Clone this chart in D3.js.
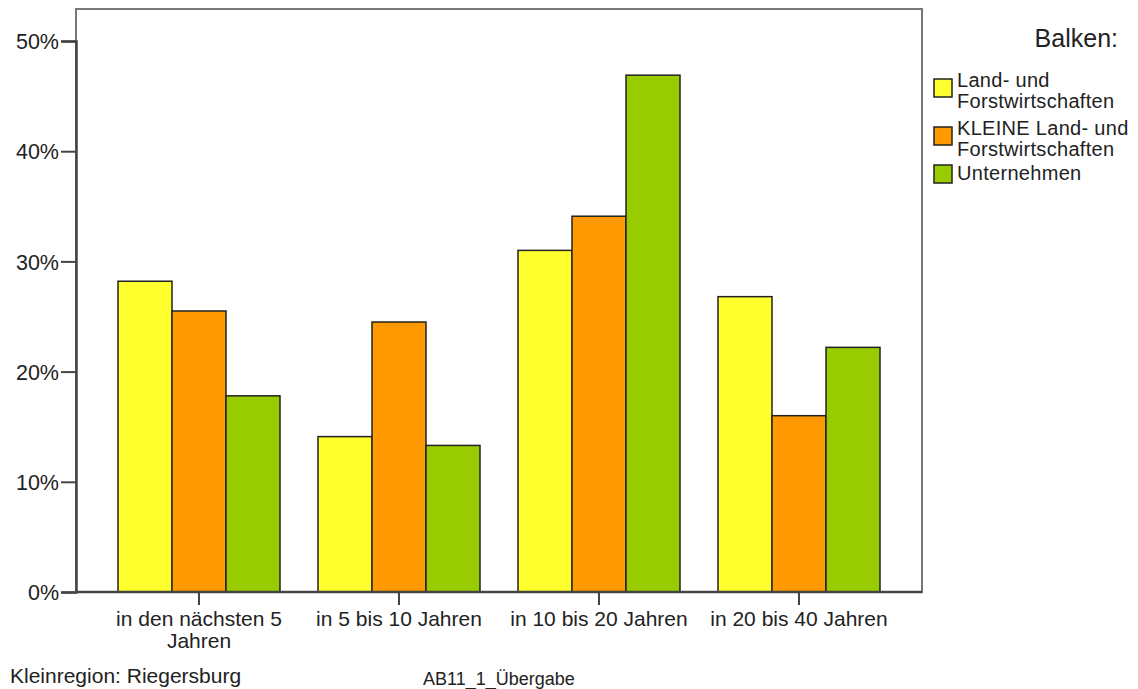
<!DOCTYPE html>
<html><head><meta charset="utf-8">
<script src="https://cdn.jsdelivr.net/npm/d3@7"></script>
<style>
html,body{margin:0;padding:0;background:#fff;}
svg text{font-family:"Liberation Sans",Arial,sans-serif;fill:#222;}
</style></head>
<body>
<svg id="chart" width="1138" height="689"></svg>
<script>
const categories = ["in den nächsten 5 Jahren", "in 5 bis 10 Jahren", "in 10 bis 20 Jahren", "in 20 bis 40 Jahren"];
const categoryLines = [["in den nächsten 5", "Jahren"], ["in 5 bis 10 Jahren"], ["in 10 bis 20 Jahren"], ["in 20 bis 40 Jahren"]];
const seriesNames = ["Land- und Forstwirtschaften", "KLEINE Land- und Forstwirtschaften", "Unternehmen"];
const seriesLegendLines = [["Land- und", "Forstwirtschaften"], ["KLEINE Land- und", "Forstwirtschaften"], ["Unternehmen"]];
const seriesColors = ["#ffff2e", "#ff9900", "#99cc00"];
const landForst = [28.2, 14.1, 31.0, 26.8];
const kleineLandForst = [25.5, 24.5, 34.1, 16.0];
const unternehmen = [17.8, 13.3, 46.9, 22.2];
const seriesValues = [landForst, kleineLandForst, unternehmen];
const yTicks = [0, 10, 20, 30, 40, 50];
const legendTitle = "Balken:";
const footLeft = "Kleinregion: Riegersburg";
const footMid = "AB11_1_Übergabe";

const svg = d3.select("#chart");
const plot = {left: 76, right: 922, top: 9, bottom: 592};

const x = d3.scaleBand().domain(categories).range([99, 899]).paddingInner(0.19).paddingOuter(0.095);
const xs = d3.scaleBand().domain(seriesNames).range([0, x.bandwidth()]);
const y = d3.scaleLinear().domain([0, 50]).range([592, 41]);

// frame
svg.append("rect").attr("x", plot.left).attr("y", plot.top)
  .attr("width", plot.right - plot.left).attr("height", plot.bottom - plot.top)
  .attr("fill", "#fff").attr("stroke", "#777").attr("stroke-width", 2);

// bars
const rows = [];
categories.forEach((c, i) => seriesNames.forEach((s, j) => rows.push({c, s, j, v: seriesValues[j][i]})));
svg.append("g").selectAll("rect").data(rows).join("rect")
  .attr("x", d => x(d.c) + xs(d.s))
  .attr("y", d => y(d.v))
  .attr("width", xs.bandwidth())
  .attr("height", d => y(0) - y(d.v))
  .attr("fill", d => seriesColors[d.j])
  .attr("stroke", "#222").attr("stroke-width", 1.5);

// y axis
const yAxis = d3.axisLeft(y).tickValues(yTicks).tickFormat(d => d + "%").tickSize(15).tickPadding(2);
const gy = svg.append("g").attr("transform", `translate(${plot.left},0)`).call(yAxis);
gy.select(".domain").attr("stroke", "#444").attr("stroke-width", 2.5);
gy.selectAll(".tick line").attr("stroke", "#444").attr("stroke-width", 2);
gy.selectAll(".tick text").attr("font-size", 21.5).attr("fill", "#222").attr("dy", "0.36em");

// x axis
const xAxis = d3.axisBottom(x).tickSize(13).tickFormat("");
const gx = svg.append("g").attr("transform", `translate(0,${plot.bottom})`).call(xAxis);
gx.select(".domain").attr("d", `M${plot.left},0H${plot.right}`).attr("stroke", "#444").attr("stroke-width", 2.5);
gx.selectAll(".tick line").attr("stroke", "#444").attr("stroke-width", 2);
gx.selectAll(".tick").each(function(d, i) {
  const t = d3.select(this).append("text").attr("text-anchor", "middle").attr("font-size", 21).attr("fill", "#222");
  categoryLines[i].forEach((ln, k) => t.append("tspan").attr("x", 0).attr("y", 34 + k * 21.5).text(ln));
});

// legend
svg.append("text").attr("x", 1118).attr("y", 47).attr("text-anchor", "end").attr("font-size", 25).text(legendTitle);
const legY = [79, 127, 165];
seriesNames.forEach((s, j) => {
  const g = svg.append("g");
  g.append("rect").attr("x", 934).attr("y", legY[j]).attr("width", 18).attr("height", 18)
    .attr("fill", seriesColors[j]).attr("stroke", "#222").attr("stroke-width", 1.5);
  const lines = seriesLegendLines[j];
  const first = lines.length > 1 ? 7.5 : 15;
  const t = g.append("text").attr("font-size", 20).attr("letter-spacing", 0.3);
  lines.forEach((ln, k) => t.append("tspan").attr("x", 957).attr("y", legY[j] + first + k * 21).text(ln));
});

// footer
svg.append("text").attr("x", 10).attr("y", 683).attr("font-size", 21).text(footLeft);
svg.append("text").attr("x", 423).attr("y", 685).attr("font-size", 18).text(footMid);
</script>
</body></html>
